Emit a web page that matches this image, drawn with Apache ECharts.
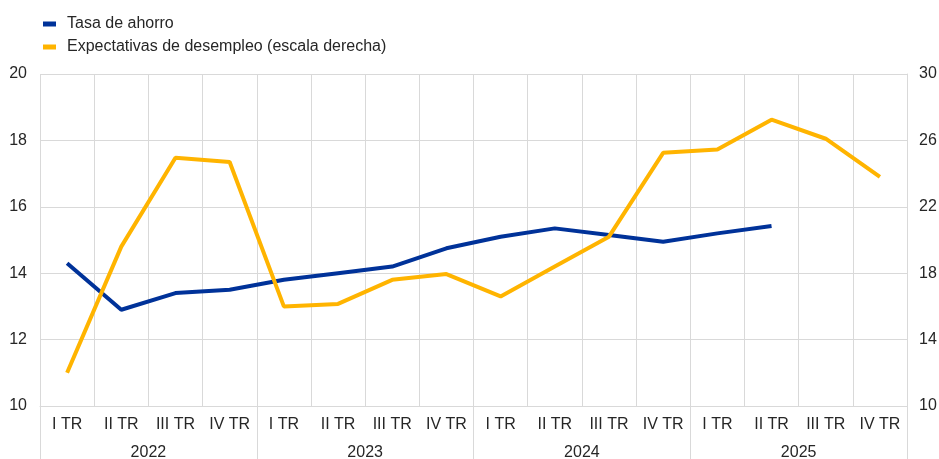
<!DOCTYPE html>
<html>
<head>
<meta charset="utf-8">
<script src="https://cdn.jsdelivr.net/npm/echarts@6/dist/echarts.min.js"></script>
<style>
  html, body { margin: 0; padding: 0; background: #fff; }
  #main { width: 939px; height: 459px; }
</style>
</head>
<body>
<div id="main"></div>
<script>
const quarters = ['I TR', 'II TR', 'III TR', 'IV TR',
                  'I TR', 'II TR', 'III TR', 'IV TR',
                  'I TR', 'II TR', 'III TR', 'IV TR',
                  'I TR', 'II TR', 'III TR', 'IV TR'];
const years = ['2022', '2023', '2024', '2025'];

// tasa de ahorro (eje izquierdo)
const savingRate = [14.3, 12.9, 13.4, 13.5, 13.8, 14.0, 14.2, 14.75,
                    15.1, 15.35, 15.15, 14.95, 15.2, 15.42, null, null];
// expectativas de desempleo (eje derecho)
const unempExp = [12.0, 19.6, 24.95, 24.7, 16.0, 16.15, 17.6, 17.95,
                  16.6, 18.4, 20.2, 25.25, 25.45, 27.25, 26.1, 23.8];

const leftTicks = { min: 10, max: 20, interval: 2 };
const rightTicks = { min: 10, max: 30, interval: 4 };

const font = 'Liberation Sans, Arial, sans-serif';
const txt = '#262626';
const gridCol = '#d9d9d9';

const chart = echarts.init(document.getElementById('main'));

const option = {
    animation: false,
    textStyle: { fontFamily: font },
    legend: {
        orient: 'vertical',
        left: 38,
        top: 11,
        itemWidth: 13,
        itemHeight: 5,
        itemGap: 7,
        icon: 'rect',
        textStyle: { fontFamily: font, fontSize: 16, color: txt, padding: [0, 0, 0, 6] },
        data: ['Tasa de ahorro', 'Expectativas de desempleo (escala derecha)']
    },
    grid: { left: 40, right: 32, top: 74, bottom: 53, outerBoundsMode: 'none' },
    xAxis: [
        {
            type: 'category',
            data: quarters,
            boundaryGap: true,
            axisLine: { lineStyle: { color: gridCol } },
            axisTick: { show: false },
            splitLine: { show: true, lineStyle: { color: gridCol } },
            axisLabel: { fontSize: 16, color: txt, margin: 11, interval: 0 }
        },
        {
            type: 'category',
            data: years,
            position: 'bottom',
            boundaryGap: true,
            axisLine: { show: false },
            axisTick: { show: true, length: 55, lineStyle: { color: gridCol } },
            splitLine: { show: false },
            axisLabel: { fontSize: 16, color: txt, margin: 39 }
        }
    ],
    yAxis: [
        {
            type: 'value',
            min: leftTicks.min, max: leftTicks.max, interval: leftTicks.interval,
            axisLine: { show: false },
            axisTick: { show: false },
            splitLine: { lineStyle: { color: gridCol } },
            axisLabel: { fontSize: 16, color: txt, margin: 13 }
        },
        {
            type: 'value',
            min: rightTicks.min, max: rightTicks.max, interval: rightTicks.interval,
            axisLine: { show: true, lineStyle: { color: gridCol } },
            axisTick: { show: false },
            splitLine: { show: false },
            axisLabel: { fontSize: 16, color: txt, margin: 12 }
        }
    ],
    series: [
        {
            name: 'Tasa de ahorro',
            type: 'line',
            data: savingRate,
            yAxisIndex: 0,
            symbol: 'none',
            lineStyle: { color: '#003299', width: 4 },
            itemStyle: { color: '#003299' }
        },
        {
            name: 'Expectativas de desempleo (escala derecha)',
            type: 'line',
            data: unempExp,
            yAxisIndex: 1,
            symbol: 'none',
            lineStyle: { color: '#ffb400', width: 4 },
            itemStyle: { color: '#ffb400' }
        }
    ]
};

chart.setOption(option);
</script>
</body>
</html>
